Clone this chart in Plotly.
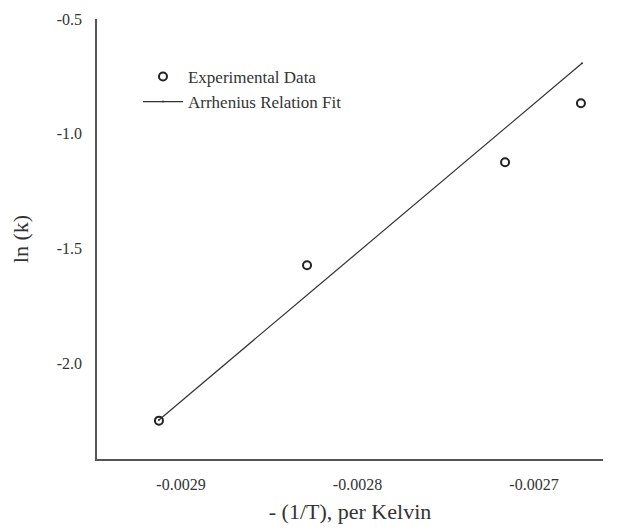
import plotly.graph_objects as go

# Data
exp_x = [-0.0029125, -0.0028286, -0.0027164, -0.0026734]
exp_y = [-2.249, -1.572, -1.124, -0.867]
fit_x = [-0.0029125, -0.0026728]
fit_y = [-2.246, -0.693]
x_ticks = [-0.0029, -0.0028, -0.0027]
x_tick_text = ["-0.0029", "-0.0028", "-0.0027"]
y_ticks = [-2.0, -1.5, -1.0, -0.5]
y_tick_text = ["-2.0", "-1.5", "-1.0", "-0.5"]

FONT = "Liberation Serif, Times New Roman, serif"

fig = go.Figure()
fig.add_trace(go.Scatter(
    x=exp_x, y=exp_y, mode="markers", name="Experimental Data",
    marker=dict(symbol="circle-open", size=8, color="#222",
                line=dict(width=2, color="#222")),
))
fig.add_trace(go.Scatter(
    x=fit_x, y=fit_y, mode="lines+markers", name="Arrhenius Relation Fit",
    line=dict(color="#333", width=1.2),
    marker=dict(size=2, color="#333"),
))

fig.update_layout(
    width=626, height=530,
    margin=dict(l=97, r=23, t=19, b=71),
    paper_bgcolor="white", plot_bgcolor="white",
    font=dict(family=FONT, size=16, color="#333"),
    showlegend=True,
    legend=dict(x=0.081, y=0.84, xanchor="left", yanchor="middle",
                bgcolor="rgba(0,0,0,0)", font=dict(family=FONT, size=17, color="#333"),
                tracegroupgap=0, itemwidth=40),
    xaxis=dict(
        range=[-0.0029476, -0.0026609],
        tickvals=x_ticks, ticktext=x_tick_text,
        showgrid=False, zeroline=False,
        showline=True, linecolor="#555", linewidth=1.5,
        ticks="", ticklabelstandoff=10, automargin=False,
        tickfont=dict(family=FONT, size=16, color="#333"),
        title=dict(text="- (1/T), per Kelvin", font=dict(family=FONT, size=22, color="#333"), standoff=12),
    ),
    yaxis=dict(
        range=[-2.416, -0.5],
        tickvals=y_ticks, ticktext=y_tick_text,
        showgrid=False, zeroline=False,
        showline=True, linecolor="#555", linewidth=1.5,
        ticks="", ticklabelstandoff=10, automargin=False,
        tickfont=dict(family=FONT, size=16, color="#333"),
        title=dict(text="ln (k)", font=dict(family=FONT, size=22, color="#333"), standoff=22),
    ),
)

fig.write_html("out.html")
